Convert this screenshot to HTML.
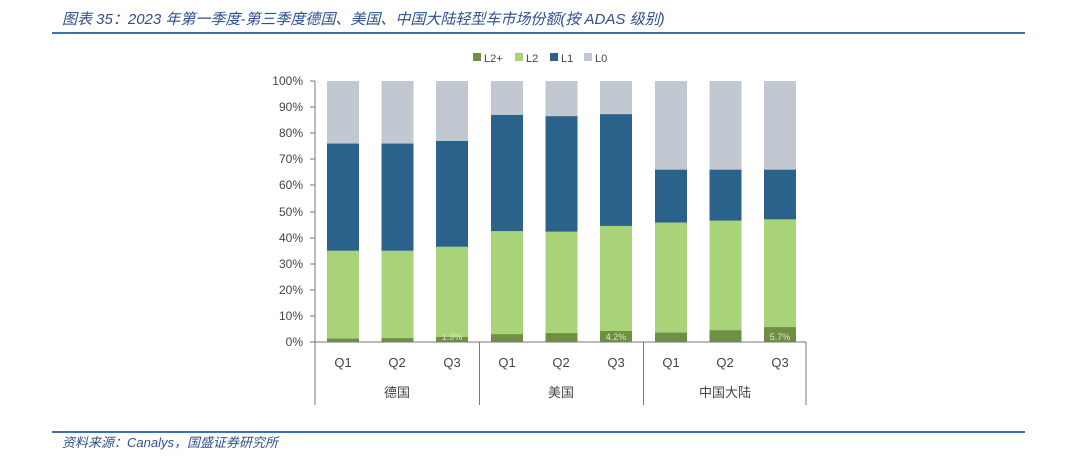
<!DOCTYPE html>
<html><head><meta charset="utf-8"><style>
html,body{margin:0;padding:0;background:#fff;}
body{width:1080px;height:456px;overflow:hidden;}
</style></head><body>
<svg width="1080" height="456" xmlns="http://www.w3.org/2000/svg" font-family="Liberation Sans, Noto Sans CJK SC, sans-serif">
<text x="62" y="24" font-size="15" font-style="italic" fill="#2f4f8f">图表 35：2023 年第一季度-第三季度德国、美国、中国大陆轻型车市场份额(按 ADAS 级别)</text>
<rect x="52" y="32" width="973" height="2" fill="#3f6fb5"/>
<rect x="52" y="431" width="973" height="2" fill="#3f6fb5"/>
<text x="62" y="447" font-size="13" font-style="italic" fill="#2f4f8f">资料来源：Canalys，国盛证券研究所</text>
<g transform="translate(0,-3)">
<rect x="473" y="56" width="8" height="8" fill="#6f8f45"/><text x="484" y="65" font-size="11" fill="#444">L2+</text>
<rect x="515" y="56" width="8" height="8" fill="#a8d378"/><text x="526" y="65" font-size="11" fill="#444">L2</text>
<rect x="550" y="56" width="8" height="8" fill="#2b628c"/><text x="561" y="65" font-size="11" fill="#444">L1</text>
<rect x="584" y="56" width="8" height="8" fill="#c2c8d2"/><text x="595" y="65" font-size="11" fill="#444">L0</text>
<g font-size="12" fill="#444" text-anchor="end">
<text x="303" y="88">100%</text><text x="303" y="114">90%</text><text x="303" y="140">80%</text><text x="303" y="166">70%</text><text x="303" y="192">60%</text><text x="303" y="219">50%</text><text x="303" y="245">40%</text><text x="303" y="271">30%</text><text x="303" y="297">20%</text><text x="303" y="323">10%</text><text x="303" y="349">0%</text>
</g>
<g fill="#c2c8d2">
<rect x="327" y="84" width="32" height="261"/><rect x="381.5" y="84" width="32" height="261"/><rect x="436" y="84" width="32" height="261"/>
<rect x="491" y="84" width="32" height="261"/><rect x="545.5" y="84" width="32" height="261"/><rect x="600" y="84" width="32" height="261"/>
<rect x="655" y="84" width="32" height="261"/><rect x="709.5" y="84" width="32" height="261"/><rect x="764" y="84" width="32" height="261"/>
</g>
<g fill="#2b628c">
<rect x="327" y="146.6" width="32" height="198.4"/><rect x="381.5" y="146.6" width="32" height="198.4"/><rect x="436" y="144" width="32" height="201"/>
<rect x="491" y="117.9" width="32" height="227.1"/><rect x="545.5" y="119.2" width="32" height="225.8"/><rect x="600" y="117.2" width="32" height="227.8"/>
<rect x="655" y="172.7" width="32" height="172.3"/><rect x="709.5" y="172.7" width="32" height="172.3"/><rect x="764" y="172.7" width="32" height="172.3"/>
</g>
<g fill="#a8d378">
<rect x="327" y="253.7" width="32" height="91.3"/><rect x="381.5" y="253.7" width="32" height="91.3"/><rect x="436" y="249.7" width="32" height="95.3"/>
<rect x="491" y="234.1" width="32" height="110.9"/><rect x="545.5" y="234.6" width="32" height="110.4"/><rect x="600" y="228.9" width="32" height="116.1"/>
<rect x="655" y="225.5" width="32" height="119.5"/><rect x="709.5" y="223.6" width="32" height="121.4"/><rect x="764" y="222.3" width="32" height="122.7"/>
</g>
<g fill="#6f8f45">
<rect x="327" y="341.6" width="32" height="3.4"/><rect x="381.5" y="341.1" width="32" height="3.9"/><rect x="436" y="340" width="32" height="5"/>
<rect x="491" y="337.2" width="32" height="7.8"/><rect x="545.5" y="336.1" width="32" height="8.9"/><rect x="600" y="334" width="32" height="11"/>
<rect x="655" y="335.6" width="32" height="9.4"/><rect x="709.5" y="333.3" width="32" height="11.7"/><rect x="764" y="330.1" width="32" height="14.9"/>
</g>
<g stroke="#777" stroke-width="1">
<line x1="315" y1="84" x2="315" y2="408"/>
<line x1="310" y1="84" x2="315" y2="84"/><line x1="310" y1="110" x2="315" y2="110"/><line x1="310" y1="136" x2="315" y2="136"/><line x1="310" y1="162" x2="315" y2="162"/><line x1="310" y1="188" x2="315" y2="188"/><line x1="310" y1="215" x2="315" y2="215"/><line x1="310" y1="241" x2="315" y2="241"/><line x1="310" y1="267" x2="315" y2="267"/><line x1="310" y1="293" x2="315" y2="293"/><line x1="310" y1="319" x2="315" y2="319"/>
<line x1="310" y1="345" x2="806" y2="345"/>
<line x1="479.5" y1="345" x2="479.5" y2="408"/>
<line x1="643.5" y1="345" x2="643.5" y2="408"/>
<line x1="806" y1="345" x2="806" y2="408"/>
</g>
<g font-size="13" fill="#444" text-anchor="middle">
<text x="343" y="370">Q1</text><text x="397" y="370">Q2</text><text x="452" y="370">Q3</text>
<text x="507" y="370">Q1</text><text x="561" y="370">Q2</text><text x="616" y="370">Q3</text>
<text x="671" y="370">Q1</text><text x="725" y="370">Q2</text><text x="780" y="370">Q3</text>
<text x="397" y="400">德国</text>
<text x="561" y="400">美国</text>
<text x="725" y="400">中国大陆</text>
</g>
<g font-size="9" fill="#d8e8c0" text-anchor="middle">
<text x="452" y="343">1.9%</text><text x="616" y="343">4.2%</text><text x="780" y="343">5.7%</text>
</g>
</g>
</svg>
</body></html>
